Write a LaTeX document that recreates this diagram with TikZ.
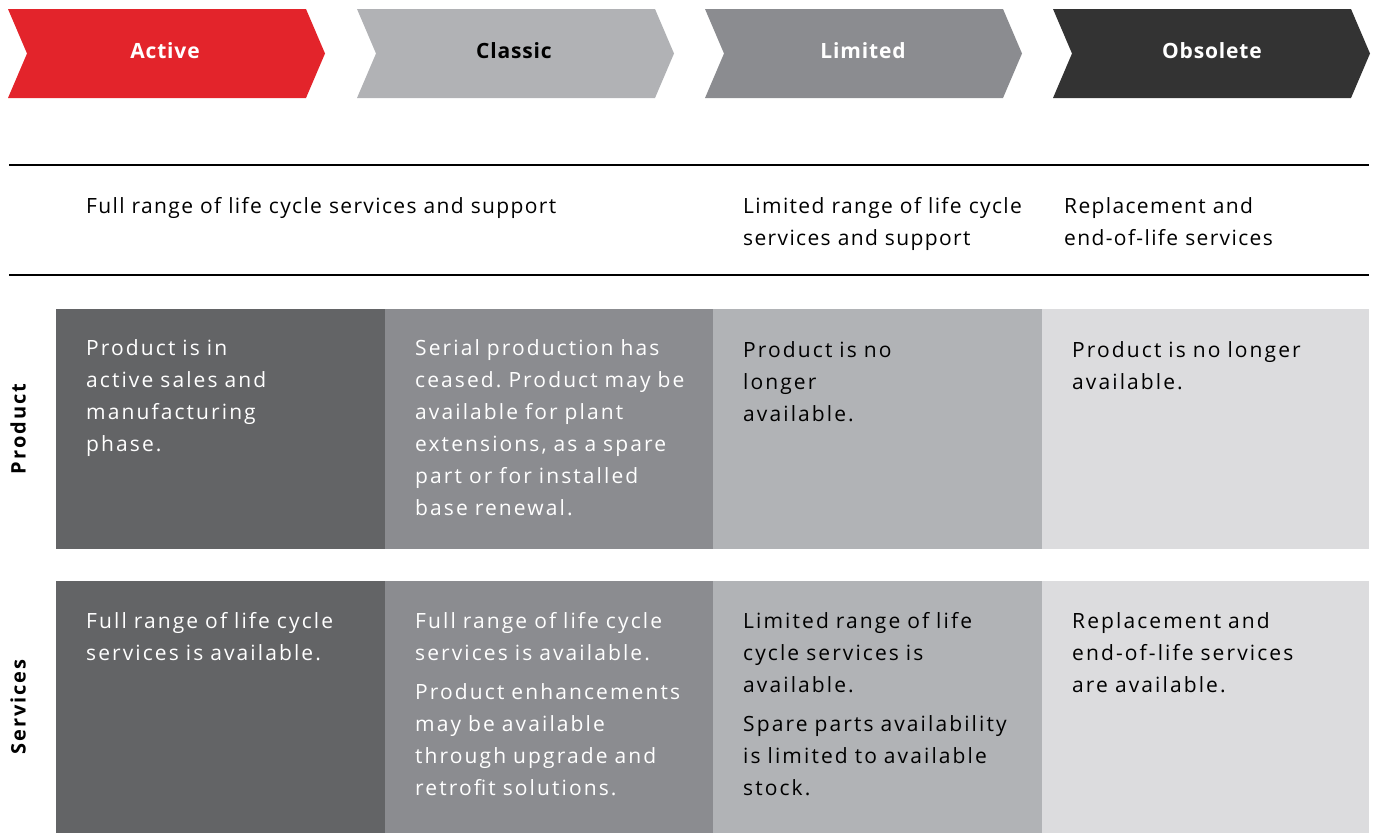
\documentclass[tikz,border=0pt]{standalone}
\usepackage{fontspec}
\setmainfont{Open Sans}[LetterSpace=10]
\newfontfamily\hdrfont{Open Sans}[LetterSpace=4]
\newfontfamily\scopefont{Open Sans}[LetterSpace=6.5]
\definecolor{abbred}{HTML}{E3242B}
\definecolor{gclassic}{HTML}{B1B2B5}
\definecolor{glimited}{HTML}{8B8C90}
\definecolor{gobsolete}{HTML}{333333}
\definecolor{cellA}{HTML}{636466}
\definecolor{cellB}{HTML}{8B8C90}
\definecolor{cellC}{HTML}{B1B3B6}
\definecolor{cellD}{HTML}{DCDCDE}
\tikzset{
  hdr/.style={anchor=base, inner sep=0pt, font=\hdrfont\fontsize{21}{24}\selectfont\bfseries},
  txt/.style={anchor=base west, inner sep=0pt, text width=600pt, align=left, font=\frenchspacing\fontsize{21}{32}\selectfont},
  scopetxt/.style={txt, font=\scopefont\frenchspacing\fontsize{21}{32}\selectfont},
  rowlbl/.style={anchor=center, inner sep=0pt, rotate=90, font=\fontsize{20}{24}\selectfont\bfseries},
  rule/.style={line width=2.5pt, black}
}
\begin{document}
\begin{tikzpicture}[x=1pt,y=-1pt]
\useasboundingbox (0,0) rectangle (1379,833);
% chevrons
\fill[abbred]    (8,9)    -- ++(298,0) -- ++(19,44.5) -- ++(-19,44.5) -- ++(-298,0) -- ++(19,-44.5) -- cycle;
\fill[gclassic]  (357,9)  -- ++(298,0) -- ++(19,44.5) -- ++(-19,44.5) -- ++(-298,0) -- ++(19,-44.5) -- cycle;
\fill[glimited]  (705,9)  -- ++(298,0) -- ++(19,44.5) -- ++(-19,44.5) -- ++(-298,0) -- ++(19,-44.5) -- cycle;
\fill[gobsolete] (1053,9) -- ++(298,0) -- ++(19,44.5) -- ++(-19,44.5) -- ++(-298,0) -- ++(19,-44.5) -- cycle;
\node[hdr, text=white] (hactive)   at (165,58.5) {Active};
\node[hdr, text=black] (hclassic)  at (514,58.5) {Classic};
\node[hdr, text=white] (hlimited)  at (863,58.5) {Limited};
\node[hdr, text=white] (hobsolete) at (1212,58.5) {Obsolete};
% rules
\coordinate (r1a) at (9,165);  \coordinate (r1b) at (1369,165);
\coordinate (r2a) at (9,275);  \coordinate (r2b) at (1369,275);
\draw[rule] (r1a) -- (r1b);
\draw[rule] (r2a) -- (r2b);
\node[scopetxt] (sfull) at (86,213) {Full range of life cycle services and support};
\node[scopetxt] (slim)  at (743,213) {Limited range of life cycle\\services and support};
\node[scopetxt] (srep)  at (1064,213) {Replacement and\\end-of-life services};
% cells
\fill[cellA] (56,309) rectangle (385,549);
\fill[cellB] (385,309) rectangle (713,549);
\fill[cellC] (713,309) rectangle (1042,549);
\fill[cellD] (1042,309) rectangle (1369,549);
\fill[cellA] (56,581) rectangle (385,833);
\fill[cellB] (385,581) rectangle (713,833);
\fill[cellC] (713,581) rectangle (1042,833);
\fill[cellD] (1042,581) rectangle (1369,833);
\node[rowlbl] (lprod) at (18,429) {Product};
\node[rowlbl] (lserv) at (18,707) {Services};
% product row
\node[txt, text=white] (pa) at (86,355) {Product is in\\active sales and\\manufacturing\\phase.};
\node[txt, text=white] (pb) at (415,355) {Serial production has\\ceased. Product may be\\available for plant\\extensions, as a spare\\part or for installed\\base renewal.};
\node[txt, text=black] (pc) at (743,357) {Product is no\\longer\\available.};
\node[txt, text=black] (pd) at (1072,357) {Product is no longer\\available.};
% services row
\node[txt, text=white] (sa) at (86,628) {Full range of life cycle\\services is available.};
\node[txt, text=white] (sb) at (415,628) {Full range of life cycle\\services is available.\\[7pt]Product enhancements\\may be available\\through upgrade and\\retrofit solutions.};
\node[txt, text=black] (sc) at (743,628) {Limited range of life\\cycle services is\\available.\\[7pt]Spare parts availability\\is limited to available\\stock.};
\node[txt, text=black] (sd) at (1072,628) {Replacement and\\end-of-life services\\are available.};
\end{tikzpicture}
\end{document}
